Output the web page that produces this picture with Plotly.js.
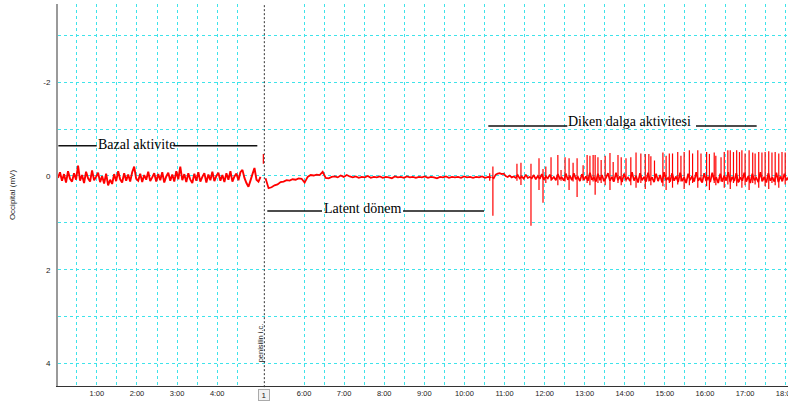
<!DOCTYPE html>
<html><head><meta charset="utf-8">
<script src="https://cdn.plot.ly/plotly-3.0.1.min.js"></script>
<style>html,body{margin:0;padding:0;background:#fff;} #chart{width:788px;height:406px;}</style>
</head><body><div id="chart"></div>
<script>
// ---------------- data ----------------
// second recording block is displayed shifted by this many minutes
const block2Offset = 0.166;
// comment marker (block-2 clock, minutes)
const markerTime = 5.01;
const markerLabel = 'penisilin i.c.';
const markerNumber = '1';

// x ticks (minutes) and labels
const tickMinutes = [0.5,1,1.5,2,2.5,3,3.5,4,4.5,6,6.5,7,7.5,8,8.5,9,9.5,10,10.5,11,11.5,12,12.5,13,13.5,14,14.5,15,15.5,16,16.5,17,17.5,18];
const tickLabels  = ['','1:00','','2:00','','3:00','','4:00','','6:00','','7:00','','8:00','','9:00','','10:00','','11:00','','12:00','','13:00','','14:00','','15:00','','16:00','','17:00','','18:00'];

// y ticks (mV)
const yTickVals = [-3,-2,-1,0,1,2,3,4];
const yTickText = ['','-2','','0','','2','','4'];

// Block 1: basal activity, sampled from t0 every dt minutes (mV)
const basalT0 = 0.03, basalDt = 0.05;
const basalValues = [
 0.04,-0.08,0.10,-0.04,0.14,-0.10,0.06,0.12,-0.06,0.08,
 -0.22,0.10,-0.02,0.15,-0.09,0.05,0.12,-0.12,0.09,0.02,
 -0.07,0.13,0.00,0.16,-0.05,0.20,0.08,0.17,-0.04,0.11,
 -0.10,0.07,0.14,-0.06,0.10,-0.03,0.12,-0.08,-0.20,0.06,
 0.10,-0.05,0.13,-0.02,0.08,-0.09,0.11,0.03,-0.06,0.12,
 -0.04,0.09,-0.08,0.14,0.01,-0.07,0.10,-0.03,0.12,-0.10,
 0.07,-0.20,0.09,-0.04,0.13,-0.06,0.08,0.15,-0.05,0.10,
 -0.08,0.12,0.02,-0.06,0.14,-0.03,0.09,-0.09,0.11,0.00,
 -0.07,0.10,-0.02,0.13,-0.06,0.08,-0.10,0.12,0.01,-0.05,
 0.09,-0.08,-0.13,0.04,0.15,0.23,0.10,-0.04,-0.17,0.08,0.12,0.02
];

// Block 2 artifact at injection
const artifactT = 4.985;
const artifactValues = [-0.47,-0.26];

// Block 2: latent period
const latentT0 = 5.04, latentDt = 0.075;
const latentValues = [
 0.05,0.26,0.24,0.20,0.18,0.13,0.12,0.09,0.10,0.07,0.08,0.05,0.06,
 0.14,0.02,-0.02,-0.01,-0.03,-0.02,-0.09,
 0.04,0.05,0.02,0.01,0.03,-0.01,0.02,-0.02,0.01,0.03,
 0.01,0.04,0.02,0.03,0.00,0.04,0.02,0.03,0.01,0.04,
 0.02,0.03,0.05,0.01,0.03,0.02,0.04,0.01,0.03,0.02,
 0.04,0.02,0.03,0.01,0.04,0.02,0.03,0.05,0.02,0.03,
 0.01,0.04,0.02,0.03,0.02,0.04,0.01,0.03,0.02,0.04,
 0.02,0.03,0.01,0.04,0.02,0.03
];

// Block 2: spike-wave period background
const spikeBgT0 = 10.68, spikeBgDt = 0.05;
const spikeBgValues = [
 0.02,0.05,-0.03,-0.05,-0.06,-0.04,-0.05,0.00,0.02,-0.01,
 0.03,0.01,0.04,-0.02,0.05,0.01,0.06,-0.03,0.04,0.02,
 0.05,-0.02,0.07,0.00,0.06,-0.04,0.08,0.01,0.05,-0.03,
 0.07,0.02,0.09,-0.04,0.06,0.03,0.10,-0.05,0.08,0.00,
 0.09,-0.06,0.07,0.02,0.11,-0.04,0.08,0.01,0.10,-0.07,
 0.08,0.03,0.12,-0.05,0.09,-0.02,0.11,0.04,-0.06,0.10,
 0.02,0.12,-0.07,0.09,0.01,0.13,-0.05,0.08,0.03,0.11,
 -0.08,0.10,0.00,0.14,-0.06,0.09,0.02,0.12,-0.07,0.10,
 0.03,0.13,-0.05,0.11,-0.02,0.14,-0.08,0.09,0.04,0.12,
 -0.06,0.10,0.01,0.13,-0.07,0.11,0.03,0.15,-0.05,0.09,
 0.00,0.12,-0.08,0.10,0.04,0.14,-0.06,0.11,0.02,0.13,
 -0.07,0.09,0.03,0.15,-0.05,0.12,-0.01,0.10,-0.08,0.13,
 0.02,0.11,-0.06,0.14,0.03,0.10,-0.07,0.12,0.00,0.15,
 -0.05,0.09,0.04,0.13,-0.08,0.11,0.02,0.14,-0.06,0.10,
 0.03,0.12,-0.07,0.13,0.01,0.11,-0.05,0.09,0.03,0.12
];

// Spikes (block-2 clock, minutes), peak (negative = up) and trough (mV)
const spikeTimes = [10.63,10.71,11.31,11.41,11.66,11.86,11.96,12.03,12.16,12.33,
 12.41,12.51,12.61,12.71,12.81,12.96,13.06,13.13,13.21,13.26,
 13.33,13.41,13.51,13.63,13.71,13.83,13.91,14.03,14.15,
 14.28,14.40,14.51,14.60,14.65,14.74,14.95,15.03,15.11,15.19,
 15.32,15.40,15.48,15.61,15.69,15.82,15.90,16.04,16.11,16.23,
 16.27,16.40,16.48,16.57,16.63,16.71,16.79,16.86,16.92,17.00,
 17.10,17.19,17.25,17.34,17.42,17.50,17.59,17.67,17.75,17.84,17.92,18.00];
const spikePeaks = [-0.06,-0.20,-0.26,-0.28,-0.26,-0.38,-0.15,-0.20,-0.40,-0.45,
 -0.13,-0.40,-0.38,-0.28,-0.38,-0.23,-0.45,-0.43,-0.45,-0.45,
 -0.40,-0.34,-0.43,-0.49,-0.30,-0.45,-0.40,-0.38,-0.40,
 -0.50,-0.48,-0.47,-0.47,-0.42,-0.33,-0.50,-0.43,-0.48,-0.48,
 -0.51,-0.43,-0.51,-0.55,-0.48,-0.55,-0.48,-0.51,-0.47,-0.50,
 -0.43,-0.40,-0.51,-0.55,-0.55,-0.51,-0.55,-0.51,-0.55,-0.48,
 -0.55,-0.50,-0.48,-0.51,-0.50,-0.51,-0.53,-0.50,-0.51,-0.48,-0.51,-0.50];
const spikeTroughs = [0.10,0.85,0.10,0.19,1.06,0.30,0.57,0.15,0.10,0.20,
 0.10,0.12,0.30,0.12,0.45,0.10,0.15,0.20,0.12,0.40,
 0.15,0.15,0.20,0.30,0.12,0.15,0.20,0.12,0.20,
 0.25,0.15,0.28,0.12,0.20,0.10,0.22,0.30,0.15,0.25,
 0.18,0.12,0.28,0.20,0.15,0.25,0.12,0.22,0.30,0.15,
 0.20,0.12,0.25,0.18,0.28,0.15,0.22,0.12,0.25,0.20,
 0.30,0.15,0.18,0.25,0.12,0.22,0.28,0.15,0.20,0.25,0.12,0.18];

// annotation texts
const phaseLabels = ['Bazal aktivite','Latent dönem','Diken dalga aktivitesi'];

// ---------------- build ----------------
const RED = '#ff0000';
const GRID = '#3fe3ea';
function sampled(t0, dt, vals, off){ return vals.map((v,i)=>t0 + i*dt + off); }

const traces = [];
traces.push({x: sampled(basalT0, basalDt, basalValues, 0), y: basalValues, type:'scatter', mode:'lines',
  line:{color:RED, width:1.9, simplify:false}, hoverinfo:'skip'});
traces.push({x: [artifactT+block2Offset, artifactT+block2Offset], y: artifactValues, type:'scatter', mode:'lines',
  line:{color:RED, width:1.2}, hoverinfo:'skip'});
traces.push({x: sampled(latentT0, latentDt, latentValues, block2Offset), y: latentValues, type:'scatter', mode:'lines',
  line:{color:RED, width:1.8, simplify:false}, hoverinfo:'skip'});
traces.push({x: sampled(spikeBgT0, spikeBgDt, spikeBgValues, block2Offset), y: spikeBgValues, type:'scatter', mode:'lines',
  line:{color:RED, width:1.7, simplify:false}, hoverinfo:'skip'});
const sx=[], sy=[];
const nSp = Math.min(spikeTimes.length, spikePeaks.length, spikeTroughs.length);
for (let i=0;i<nSp;i++){ const x = spikeTimes[i]+block2Offset; sx.push(x,x,null); sy.push(spikeTroughs[i], spikePeaks[i], null); }
traces.push({x:sx, y:sy, type:'scatter', mode:'lines', line:{color:RED, width:1.2}, connectgaps:false, hoverinfo:'skip'});

const tickPos = tickMinutes.map(m => m < 5 ? m : m + block2Offset);
const markerX = markerTime + block2Offset;

const serif = {family:'Liberation Serif, Times New Roman, serif', size:14, color:'#000'};
function seg(x0,x1,y){ return {type:'line', xref:'x', yref:'y', x0:x0, x1:x1, y0:y, y1:y, line:{color:'#111', width:1.6}}; }

const layout = {
  width:788, height:406,
  margin:{l:58, r:0, t:4, b:20, pad:0},
  paper_bgcolor:'#fff', plot_bgcolor:'#fff',
  showlegend:false,
  font:{family:'Liberation Sans, Arial, sans-serif', size:8, color:'#222'},
  xaxis:{range:[0.03,18.236], tickmode:'array', tickvals:tickPos, ticktext:tickLabels,
    showgrid:true, gridcolor:GRID, griddash:'3px,3px', gridwidth:1, zeroline:false,
    showline:true, linecolor:'#333', linewidth:1, ticks:'', tickfont:{size:7.5, color:'#222'},
    ticklabeloverflow:'allow', automargin:false, fixedrange:true},
  yaxis:{range:[4.478,-3.667], tickmode:'array', tickvals:yTickVals, ticktext:yTickText,
    showgrid:true, gridcolor:GRID, griddash:'3px,3px', gridwidth:1, zeroline:false,
    showline:true, linecolor:'#9a9a9a', linewidth:2, ticks:'', ticklabelstandoff:4,
    tickfont:{size:8, color:'#222'},
    title:{text:'Occipital (mV)', font:{size:8, color:'#222'}, standoff:26},
    automargin:false, fixedrange:true},
  shapes:[
    seg(0.039,0.996,-0.646), seg(2.906,5.001,-0.646),
    seg(5.25,6.615,0.746), seg(8.635,10.655,0.746),
    seg(10.762,12.732,-1.066), seg(15.941,17.455,-1.066),
    {type:'line', xref:'x', yref:'paper', x0:markerX, x1:markerX, y0:-0.024, y1:1,
      line:{color:'#333', width:1, dash:'2px,2px'}}
  ],
  annotations:[
    {x:1.976, y:-0.66, xref:'x', yref:'y', text:phaseLabels[0], showarrow:false, font:serif, yshift:1},
    {x:7.625, y:0.725, xref:'x', yref:'y', text:phaseLabels[1], showarrow:false, font:serif, yshift:1},
    {x:14.295, y:-1.14, xref:'x', yref:'y', text:phaseLabels[2], showarrow:false, font:serif, yshift:1},
    {x:markerX, y:0.0576, xref:'x', yref:'paper', text:markerLabel, textangle:-90, showarrow:false,
      xshift:-3.5, font:{size:7.5, color:'#222'}},
    {x:markerX, y:-0.038, xref:'x', yref:'paper', text:markerNumber, showarrow:false,
      font:{size:8, color:'#222'}, bordercolor:'#aaa', borderwidth:1, bgcolor:'#f2f2f2', borderpad:1, width:8, height:8}
  ]
};

Plotly.newPlot('chart', traces, layout, {staticPlot:true, displayModeBar:false});
</script></body></html>
